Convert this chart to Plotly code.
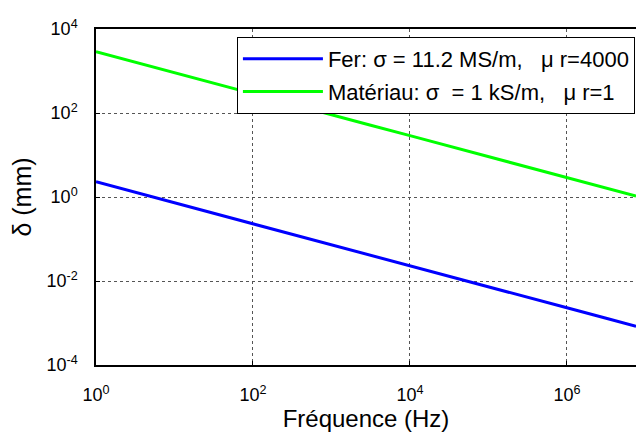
import plotly.graph_objects as go

freq_hz = [1, 3.16, 10, 31.6, 100, 316, 1000, 3160, 1e4, 3.16e4, 1e5, 3.16e5, 1e6, 3.16e6, 7.6e6]
delta_fer_mm = [2.3, 1.29, 0.73, 0.41, 0.23, 0.13, 0.073, 0.041, 0.023, 0.013, 0.0073, 0.0041, 0.0023, 0.0013, 0.00083]
delta_mat_mm = [2900, 1620, 910, 510, 290, 162, 91, 51, 29, 16.2, 9.1, 5.1, 2.9, 1.62, 1.05]

x_tickvals = [1, 100, 1e4, 1e6]
x_ticktext = ["10<sup>0</sup>", "10<sup>2</sup>", "10<sup>4</sup>", "10<sup>6</sup>"]
y_tickvals = [1e-4, 1e-2, 1, 100, 1e4]
y_ticktext = ["10<sup>-4</sup>", "10<sup>-2</sup>", "10<sup>0</sup>", "10<sup>2</sup>", "10<sup>4</sup>"]

NB = "\u00a0"
label_fer = f"Fer: σ = 11.2 MS/m,{NB}{NB} μ r=4000"
label_mat = f"Matériau: σ{NB}{NB}= 1 kS/m,{NB}{NB} μ r=1"

fig = go.Figure()
fig.add_trace(go.Scatter(x=freq_hz, y=delta_fer_mm, mode="lines", name=label_fer,
                         legendgroup="a", line=dict(color="#0000ff", width=3)))
fig.add_trace(go.Scatter(x=freq_hz, y=delta_mat_mm, mode="lines", name=label_mat,
                         legendgroup="b", line=dict(color="#00ff00", width=3)))

font = "Liberation Sans, Arial, sans-serif"
fig.update_layout(
    width=636, height=432,
    margin=dict(l=96, r=0, t=29, b=67),
    paper_bgcolor="white", plot_bgcolor="white",
    font=dict(family=font, size=18, color="black"),
    showlegend=True,
    legend=dict(x=0.998, y=0.976, xanchor="right", yanchor="top",
                bordercolor="black", borderwidth=1, bgcolor="white",
                font=dict(size=22), tracegroupgap=1, itemwidth=80),
)
fig.update_xaxes(type="log", range=[0, 6.88],
                 tickvals=x_tickvals, ticktext=x_ticktext,
                 ticks="inside", ticklen=4, tickcolor="black",
                 showline=True, linecolor="black", linewidth=1.5, mirror=True,
                 showgrid=True, gridcolor="#555555", griddash="dot", gridwidth=1,
                 zeroline=False, ticklabelstandoff=13,
                 tickfont=dict(size=18),
                 title=dict(text="Fréquence (Hz)", font=dict(size=24), standoff=4))
fig.update_yaxes(type="log", range=[-4, 4],
                 tickvals=y_tickvals, ticktext=y_ticktext,
                 ticks="inside", ticklen=4, tickcolor="black",
                 showline=True, linecolor="black", linewidth=1.5, mirror=False,
                 showgrid=True, gridcolor="#555555", griddash="dot", gridwidth=1,
                 zeroline=False, ticklabelstandoff=13,
                 tickfont=dict(size=18),
                 title=dict(text="δ (mm)", font=dict(size=25), standoff=8))

fig.write_html("out.html", config={"displayModeBar": False},
               post_script="document.body.style.margin='0';")
